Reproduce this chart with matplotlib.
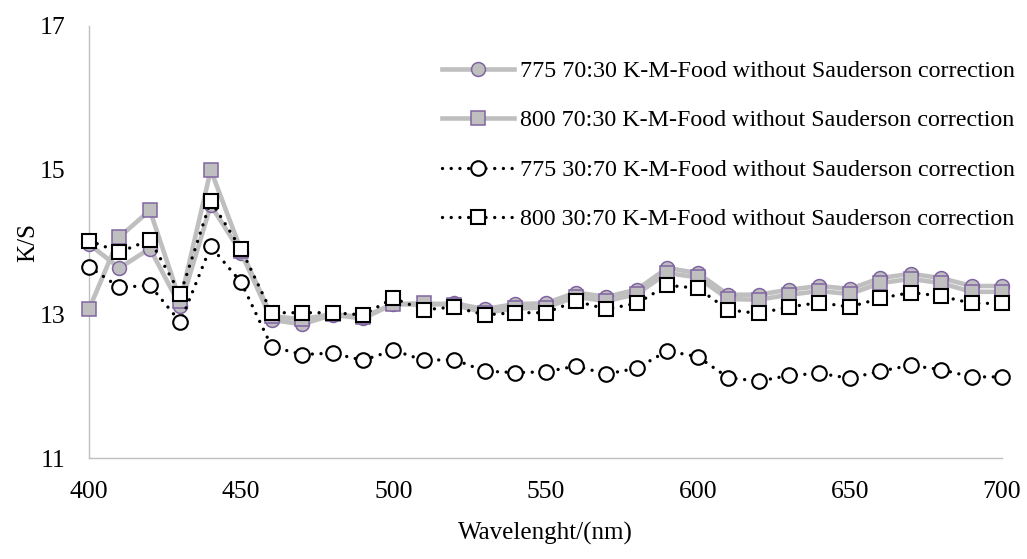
import matplotlib
matplotlib.use("Agg")
import matplotlib.pyplot as plt

wavelength = [400, 410, 420, 430, 440, 450, 460, 470, 480, 490, 500,
              510, 520, 530, 540, 550, 560, 570, 580, 590, 600,
              610, 620, 630, 640, 650, 660, 670, 680, 690, 700]

ks_775_7030 = [13.97, 13.64, 13.91, 13.11, 14.51, 13.85, 12.92, 12.86, 12.99, 12.94, 13.14,
               13.13, 13.15, 13.07, 13.14, 13.15, 13.30, 13.24, 13.34, 13.64, 13.57,
               13.27, 13.27, 13.34, 13.39, 13.35, 13.50, 13.56, 13.50, 13.39, 13.39]
ks_800_7030 = [13.07, 14.07, 14.44, 13.18, 15.00, 13.88, 12.97, 12.93, 13.00, 12.96, 13.14,
               13.15, 13.13, 13.02, 13.08, 13.09, 13.24, 13.18, 13.28, 13.57, 13.51,
               13.21, 13.20, 13.27, 13.32, 13.28, 13.43, 13.49, 13.43, 13.31, 13.31]
ks_775_3070 = [13.66, 13.37, 13.40, 12.89, 13.94, 13.44, 12.55, 12.44, 12.46, 12.36, 12.50,
               12.36, 12.37, 12.21, 12.19, 12.20, 12.28, 12.17, 12.25, 12.49, 12.41,
               12.12, 12.07, 12.15, 12.18, 12.11, 12.21, 12.29, 12.23, 12.13, 12.13]
ks_800_3070 = [14.02, 13.86, 14.03, 13.28, 14.57, 13.90, 13.02, 13.02, 13.02, 12.99, 13.22,
               13.06, 13.10, 12.99, 13.02, 13.02, 13.18, 13.07, 13.15, 13.40, 13.36,
               13.06, 13.01, 13.10, 13.16, 13.10, 13.22, 13.30, 13.25, 13.15, 13.15]

labels = ["775 70:30 K-M-Food without Sauderson correction",
          "800 70:30 K-M-Food without Sauderson correction",
          "775 30:70 K-M-Food without Sauderson correction",
          "800 30:70 K-M-Food without Sauderson correction"]

xticks = [400, 450, 500, 550, 600, 650, 700]
yticks = [11, 13, 15, 17]

plt.rcParams['font.family'] = ['Liberation Serif', 'DejaVu Serif']

fig = plt.figure(figsize=(10.27, 5.59), dpi=100)
ax = fig.add_axes([0.0867, 0.180, 0.889, 0.774])

gray = '#BFBFBF'
purple = '#8064A2'
dot = (0, (0.01, 2.6))

ax.plot(wavelength, ks_775_7030, color=gray, lw=3.3, marker='o', ms=10,
        mfc=gray, mec=purple, mew=1.1, label=labels[0], clip_on=False, zorder=3)
ax.plot(wavelength, ks_800_7030, color=gray, lw=3.3, marker='s', ms=10,
        mfc=gray, mec=purple, mew=1.1, label=labels[1], clip_on=False, zorder=4)
ax.plot(wavelength, ks_775_3070, color='black', lw=2.4, ls=dot, dash_capstyle='round',
        marker='o', ms=10.5, mfc='white', mec='black', mew=1.5,
        label=labels[2], clip_on=False, zorder=5)
ax.plot(wavelength, ks_800_3070, color='black', lw=2.4, ls=dot, dash_capstyle='round',
        marker='s', ms=10.5, mfc='white', mec='black', mew=1.5,
        label=labels[3], clip_on=False, zorder=6)

ax.set_xlim(400, 700)
ax.set_ylim(11, 17)
ax.set_xticks(xticks)
ax.set_yticks(yticks)
ax.tick_params(length=0, labelsize=18.5)
ax.tick_params(axis='x', pad=16)
ax.tick_params(axis='y', pad=17)
for s in ['top', 'right']:
    ax.spines[s].set_visible(False)
for s in ['left', 'bottom']:
    ax.spines[s].set_color(gray)
    ax.spines[s].set_linewidth(1.0)

ax.set_xlabel('Wavelenght/(nm)', fontsize=18, labelpad=14)
ax.set_ylabel('K/S', fontsize=18, labelpad=0)

leg = ax.legend(loc='upper right', bbox_to_anchor=(1.0097, 0.931), bbox_transform=fig.transFigure,
                frameon=False, fontsize=17.3, handlelength=3.0, handletextpad=0.25,
                labelspacing=1.15)

fig.savefig('out.png', dpi=100)
